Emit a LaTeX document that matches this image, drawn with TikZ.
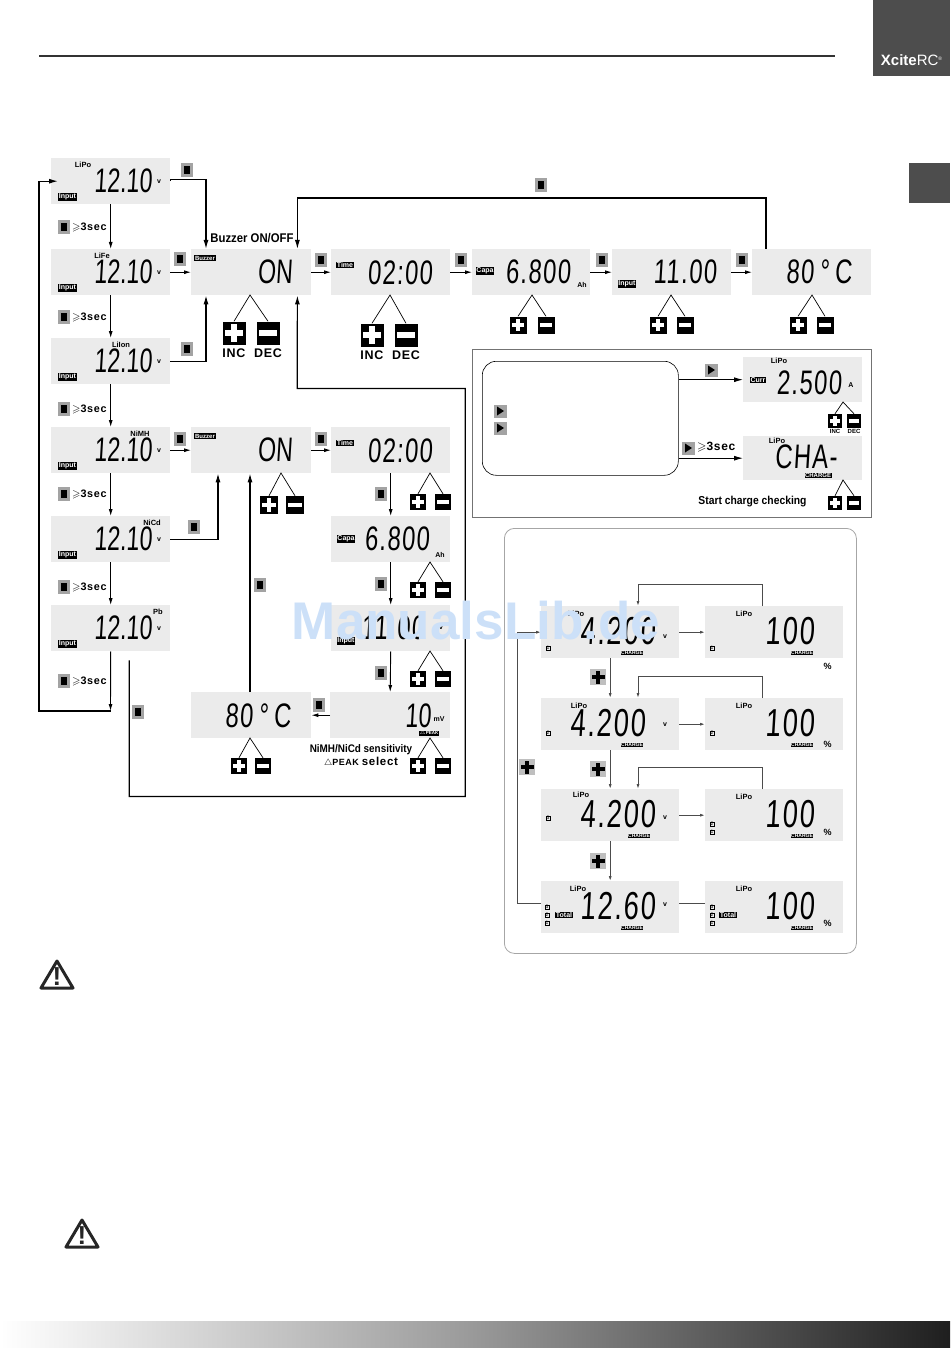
\documentclass[tikz,border=0pt]{standalone}
\usepackage{amssymb}
\usepackage{fontspec}
\setmainfont{Liberation Sans}
\newfontfamily\lcdface[FakeStretch=0.7,FakeSlant=0.06,LetterSpace=4]{Liberation Sans}
\newfontfamily\lcdtight[FakeStretch=0.68,FakeSlant=0.06]{Liberation Sans}
\newfontfamily\narrowface[FakeStretch=0.9]{Liberation Sans}
\newfontfamily\wideface[LetterSpace=6]{Liberation Sans}
\usetikzlibrary{arrows.meta,shapes.geometric}

\definecolor{lcdgray}{HTML}{EBEBEB}
\definecolor{keygray}{HTML}{A3A3A3}
\definecolor{tabgray}{HTML}{4D4D4D}
\definecolor{markblue}{HTML}{CCE0F8}

\tikzset{
    lcdbox/.style = {fill=lcdgray, inner sep=0, anchor=north west},
    readout/.style = {inner sep=0, font=\lcdface\fontsize{34}{34}\selectfont},
    tightout/.style = {inner sep=0, font=\lcdtight\fontsize{34}{34}\selectfont},
    bigreadout/.style = {inner sep=0, font=\lcdface\fontsize{39}{39}\selectfont},
    modetext/.style = {inner sep=0, font=\bfseries\fontsize{7.5}{8}\selectfont},
    unittext/.style = {inner sep=0, font=\bfseries\fontsize{7}{7}\selectfont},
    lcdtag/.style = {fill=black, text=white, inner sep=0.7, font=\bfseries\fontsize{7}{7}\selectfont},
    chargetag/.style = {fill=black, text=white, inner sep=0.5, font=\bfseries\fontsize{5}{5}\selectfont},
    cellmark/.style = {draw, line width=0.3, inner sep=0.5, font=\fontsize{5}{5}\selectfont},
    holdtext/.style = {inner sep=0, anchor=west, font=\wideface\bfseries\fontsize{10.8}{12}\selectfont},
    keycap/.style = {inner sep=0, font=\wideface\bfseries\fontsize{12.5}{13}\selectfont},
    notetext/.style = {inner sep=0, font=\narrowface\bfseries\fontsize{12.6}{13}\selectfont},
    conn/.style = {line width=0.9, -{Latex[length=7pt,width=4pt]}},
    mainconn/.style = {line width=1.2, -{Latex[length=9pt,width=5pt]}},
    thinconn/.style = {line width=0.9, draw=black!70, -{Latex[length=5pt,width=3pt]}},
    wedge/.style = {line width=0.7},
    stopkey/.style = {fill=keygray, inner sep=0, minimum width=12, minimum height=14,
        path picture={\fill[black] (path picture bounding box.center) ++(-3,-4) rectangle ++(6,8);}},
    arrowkey/.style = {fill=keygray, inner sep=0, minimum width=13, minimum height=13,
        path picture={\fill[black] (path picture bounding box.center) ++(-3,-4.5) -- ++(7,4.5) -- ++(-7,4.5) -- cycle;}},
    pluskey/.style = {fill=black, inner sep=0, minimum size=#1,
        path picture={\fill[white] (path picture bounding box.center) ++(-.38*#1,-.12*#1) rectangle ++(.76*#1,.24*#1);
            \fill[white] (path picture bounding box.center) ++(-.12*#1,-.38*#1) rectangle ++(.24*#1,.76*#1);}},
    minuskey/.style = {fill=black, inner sep=0, minimum size=#1,
        path picture={\fill[white] (path picture bounding box.center) ++(-.38*#1,-.12*#1) rectangle ++(.76*#1,.24*#1);}},
    grayplus/.style = {fill=keygray!70, inner sep=0, minimum size=16,
        path picture={\fill[black] (path picture bounding box.center) ++(-6.5,-1.7) rectangle ++(13,3.4);
            \fill[black] (path picture bounding box.center) ++(-1.7,-6.5) rectangle ++(3.4,13);}},
    warnmark/.style = {inner sep=0, font=\bfseries\fontsize{26}{26}\selectfont}
}

\begin{document}
\begin{tikzpicture}[x=1pt, y=-1pt]
    % Define macros
    \def\lcdBox#1#2#3#4#5{\node[lcdbox, minimum width=#4, minimum height=#5] (#1) at (#2,#3) {};}
    \def\keyPair#1#2#3#4#5#6#7{%
        \coordinate (#1Apex) at (#2,#3);
        \node[pluskey=#7] (#1Plus) at (#4,#6) {};
        \node[minuskey=#7] (#1Minus) at (#5,#6) {};
        \draw[wedge] (#1Plus.north) -- (#1Apex) -- (#1Minus.north);}

    \useasboundingbox (0,0) rectangle (950,1348);

    %Page furniture
    \draw[line width=1.4, black!80] (39,56) -- (835,56);
    \fill[tabgray] (873,0) rectangle (950,76);
    \fill[tabgray] (909,163) rectangle (950,203);
    \node[inner sep=0, text=white, font=\fontsize{15}{15}\selectfont] (brand) at (911.5,60) {\textbf{Xcite}RC\raisebox{5pt}{\fontsize{5}{5}\selectfont ®}};
    \shade[left color=white, right color=black!88, middle color=black!40] (0,1321) rectangle (950,1348);

    %Panels
    \node[draw=black!55, line width=0.9, inner sep=0, minimum width=399, minimum height=168, anchor=north west] (checkPanel) at (472,349) {};
    \node[draw, rounded corners=14, line width=0.6, inner sep=0, minimum width=196, minimum height=114, anchor=north west] (infoBox) at (482,361) {};
    \node[draw=black!35, rounded corners=10, line width=0.8, inner sep=0, minimum width=352, minimum height=425, anchor=north west] (chkPanel) at (504,528) {};

    %Left column of battery types
    \foreach \boxName/\ytop/\modeName/\modex in {liPo/158/LiPo/83, liFe/249/LiFe/102, liIon/338/LiIon/121, niMH/427/NiMH/140, niCd/516/NiCd/152, pbAcid/605/Pb/158} {
        \lcdBox{\boxName}{51}{\ytop}{119}{46}
        \node[tightout] (\boxName Value) at ([xshift=72]\boxName.west) {12.10};
        \node[lcdtag] (\boxName Tag) at ([shift={(16.5,-7.5)}]\boxName.south west) {Input};
        \node[unittext] (\boxName Unit) at ([xshift=108]\boxName.west) {v};
        \node[modetext] (\boxName Mode) at (\modex,\ytop+7) {\modeName};
    }
    \foreach \i/\y in {1/227, 2/317, 3/409, 4/494, 5/587, 6/681} {
        \node[stopkey] (holdKey\i) at (64,\y) {};
        \node[holdtext] (holdText\i) at (72,\y) {$\geqslant$3sec};
    }
    \coordinate (pbEnd) at (110.5,711);
    \foreach \a/\b in {liPo/liFe, liFe/liIon, liIon/niMH, niMH/niCd, niCd/pbAcid} {
        \draw[conn] (\a.south) -- (\b.north);
    }
    \draw[conn] (pbAcid.south) -- (pbEnd);
    \draw[mainconn] (pbEnd) -- ++(-71.5,0) |- ([xshift=7]liPo.west);

    %Top row
    \lcdBox{buzzA}{191}{249}{120}{46}
    \lcdBox{timeA}{331}{249}{119}{46}
    \lcdBox{capaA}{472}{249}{118}{46}
    \lcdBox{inputA}{612}{249}{119}{46}
    \lcdBox{heatA}{752}{249}{119}{46}
    \node[lcdtag, font=\bfseries\fontsize{6}{6}\selectfont] (buzzATag) at (205,258) {Buzzer};
    \node[tightout] (buzzAValue) at (275,272) {ON};
    \node[lcdtag] (timeATag) at (345,265) {Time};
    \node[readout] (timeAValue) at (400,273) {02:00};
    \node[lcdtag] (capaATag) at (485,271) {Capa};
    \node[readout] (capaAValue) at (538,272) {6.800};
    \node[unittext] (capaAUnit) at (582,285) {Ah};
    \node[lcdtag] (inputATag) at (627,284) {Input};
    \node[readout] (inputAValue) at (685,272) {11.00};
    \node[readout] (heatAValue) at (819,272) {80\,°\,C};
    \node[notetext] (buzzerNote) at (252,238) {Buzzer ON/OFF};

    \draw[mainconn] (liPo.east) -- ++(0,-1.5) -| ([xshift=15]buzzA.north west);
    \draw[conn] (liFe) -- (buzzA);
    \draw[mainconn] (liIon.east) -| ([xshift=15]buzzA.south west);
    \draw[conn] (buzzA) -- (timeA);
    \draw[conn] (timeA) -- (capaA);
    \draw[conn] (capaA) -- (inputA);
    \draw[conn] (inputA) -- (heatA);
    \draw[mainconn] ([xshift=14]heatA.north west) -- ++(0,-51) -| ([xshift=-14]buzzA.north east);
    \draw[mainconn] ([shift={(18.5,9)}]pbAcid.south) -- ++(0,136) -- ++(336,0) -- ++(0,-408) -- ++(-168,0) -- ([xshift=-14]buzzA.south east);

    \keyPair{buzzA}{250}{295}{234}{268}{333}{23}
    \keyPair{timeA}{390}{295}{372}{406}{335}{23}
    \keyPair{capaA}{532}{295}{518}{546}{325}{17}
    \keyPair{inputA}{671}{295}{658}{685}{325}{17}
    \keyPair{heatA}{812}{295}{798}{825}{325}{17}
    \node[keycap] (buzzAInc) at (234,353) {INC};
    \node[keycap] (buzzADec) at (268,353) {DEC};
    \node[keycap] (timeAInc) at (372,355) {INC};
    \node[keycap] (timeADec) at (406,355) {DEC};

    %Second branch
    \lcdBox{buzzB}{191}{427}{120}{46}
    \lcdBox{timeB}{331}{427}{119}{46}
    \lcdBox{capaB}{331}{516}{119}{46}
    \lcdBox{inputB}{331}{605}{119}{46}
    \lcdBox{peakB}{330}{692}{120}{46}
    \lcdBox{heatB}{191}{692}{120}{46}
    \node[lcdtag, font=\bfseries\fontsize{6}{6}\selectfont] (buzzBTag) at (205,436) {Buzzer};
    \node[tightout] (buzzBValue) at (275,450) {ON};
    \node[lcdtag] (timeBTag) at (345,443) {Time};
    \node[readout] (timeBValue) at (400,451) {02:00};
    \node[lcdtag] (capaBTag) at (346,539) {Capa};
    \node[readout] (capaBValue) at (397,539) {6.800};
    \node[unittext] (capaBUnit) at (440,555) {Ah};
    \node[lcdtag] (inputBTag) at (346,641) {Input};
    \node[readout] (inputBValue) at (393,628) {11.00};
    \node[unittext] (inputBUnit) at (441,628) {v};
    \node[tightout] (peakBValue) at (418,716) {10};
    \node[unittext] (peakBUnit) at (439,719) {mV};
    \node[lcdtag, font=\bfseries\fontsize{4.5}{5}\selectfont] (peakBTag) at (429,733.5) {$\triangle$PEAK};
    \node[readout] (heatBValue) at (258,716) {80\,°\,C};
    \node[inner sep=0, font=\narrowface\bfseries\fontsize{11}{11}\selectfont] (sensNote) at (361,750) {NiMH/NiCd sensitivity};
    \node[inner sep=0, font=\wideface\bfseries\fontsize{9}{10}\selectfont] (peakNote) at (361,762) {$\triangle$PEAK \fontsize{11.5}{11}\selectfont select};

    \draw[conn] (niMH) -- (buzzB);
    \draw[mainconn] (niCd.east) -| ([xshift=27]buzzB.south west);
    \draw[conn] (buzzB) -- (timeB);
    \draw[conn] (timeB.south) -- (capaB.north);
    \draw[conn] (capaB.south) -- (inputB.north);
    \draw[conn] (inputB.south) -- (peakB.north);
    \draw[conn] (peakB) -- (heatB);
    \draw[mainconn] ([xshift=59]heatB.north west) -- ([xshift=59]buzzB.south west);

    \keyPair{buzzB}{281}{473}{269}{295}{505}{18}
    \keyPair{timeB}{430}{473}{418}{443}{502}{16}
    \keyPair{capaB}{430}{562}{418}{443}{590}{16}
    \keyPair{inputB}{430}{651}{418}{443}{679}{16}
    \keyPair{peakB}{430}{738}{418}{443}{766}{16}
    \keyPair{heatB}{250}{738}{239}{263}{766}{16}

    %Connector keys
    \foreach \i/\x/\y in {1/187/170, 2/180/259, 3/187/349, 4/180/439, 5/194/527, 6/321/260, 7/321/439, 8/461/260, 9/602/260, 10/742/260, 11/541/185, 12/381/494, 13/381/584, 14/381/673, 15/260/585, 16/319/705, 17/138/712} {
        \node[stopkey] (stopKey\i) at (\x,\y) {};
    }

    %Check panel
    \lcdBox{currBox}{743}{357}{119}{45}
    \lcdBox{chaBox}{743}{436}{119}{44}
    \node[modetext] (currMode) at (779,361) {LiPo};
    \node[lcdtag] (currTag) at (758,380) {Curr};
    \node[readout] (currValue) at (809,383) {2.500};
    \node[unittext] (currUnit) at (851,385) {A};
    \node[modetext] (chaMode) at (777,441) {LiPo};
    \node[readout] (chaValue) at (806,457) {CHA-};
    \node[chargetag, font=\bfseries\fontsize{6}{6}\selectfont] (chaTag) at (818,475.5) {CHARGE};
    \node[arrowkey] (infoKeyA) at (500,411) {};
    \node[arrowkey] (infoKeyB) at (500,428) {};
    \node[arrowkey] (currKey) at (711,370) {};
    \node[arrowkey] (chaKey) at (688,448) {};
    \node[holdtext, font=\wideface\bfseries\fontsize{12}{12}\selectfont] (chaHold) at (697,447) {$\geqslant$3sec};
    \node[inner sep=0, font=\narrowface\bfseries\fontsize{11.5}{12}\selectfont] (startNote) at (752.5,502) {Start charge checking};
    \draw[mainconn, line width=0.9] (infoBox.east |- currBox) -- (currBox);
    \draw[mainconn, line width=0.9] (infoBox.east |- chaBox) -- (chaBox);
    \keyPair{currBox}{843}{402}{835}{854}{421}{14}
    \keyPair{chaBox}{843}{480}{835}{854}{503}{14}
    \node[inner sep=0, font=\bfseries\fontsize{6}{6}\selectfont] (currInc) at (835,431.5) {INC};
    \node[inner sep=0, font=\bfseries\fontsize{6}{6}\selectfont] (currDec) at (854,431.5) {DEC};

    %Cell voltage panel
    \foreach \row/\ytop/\readVal/\valx/\lix/\liy/\tagx/\pcty/\vy in {1/606/4.200/618/576/614/632/666/637, 2/698/4.200/608/579/706/632/744/725, 3/789/4.200/618/581/795/639/832/818, 4/881/12.60/618/578/889/632/923/905} {
        \lcdBox{chkLeft\row}{541}{\ytop}{138}{52}
        \lcdBox{chkRight\row}{705}{\ytop}{138}{52}
        \node[bigreadout] (chkLeftValue\row) at (\valx,\ytop+25) {\readVal};
        \node[modetext] (chkLeftMode\row) at (\lix,\liy) {LiPo};
        \node[unittext] (chkLeftUnit\row) at (665,\vy) {v};
        \node[chargetag] (chkLeftTag\row) at (\tagx,\ytop+47) {CHARGE};
        \node[bigreadout] (chkRightValue\row) at (790,\ytop+25) {100};
        \node[modetext] (chkRightMode\row) at (744,\ytop+8) {LiPo};
        \node[chargetag] (chkRightTag\row) at (802,\ytop+47) {CHARGE};
        \node[inner sep=0, font=\bfseries\fontsize{9}{9}\selectfont] (chkPct\row) at (827.5,\pcty) {\%};
    }
    \node[cellmark] (markLeftA) at (548,648) {1};
    \node[cellmark] (markRightA) at (712,648) {1};
    \node[cellmark] (markLeftB) at (548,733) {2};
    \node[cellmark] (markRightB) at (712,733) {2};
    \node[cellmark] (markLeftC) at (548,818) {3};
    \node[cellmark] (markRightCa) at (712,824) {2};
    \node[cellmark] (markRightCb) at (712,832) {1};
    \foreach \n/\y in {3/907, 2/915, 1/923} {
        \node[cellmark] (markLeftD\n) at (547,\y) {\n};
        \node[cellmark] (markRightD\n) at (712,\y) {\n};
    }
    \node[lcdtag] (totalLeft) at (564,915) {Total};
    \node[lcdtag] (totalRight) at (728,915) {Total};

    \foreach \row in {1,2,3} {
        \draw[thinconn] (chkLeft\row) -- (chkRight\row);
        \draw[thinconn] ([xshift=57]chkRight\row.north west) -- ++(0,-22) -| ([xshift=97]chkLeft\row.north west);
    }
    \draw[line width=0.9, draw=black!70] ([yshift=4]chkLeft4.east) -- ([yshift=4]chkRight4.west);
    \draw[thinconn] (chkLeft1.south) -- (chkLeft2.north);
    \draw[thinconn] (chkLeft2.south) -- (chkLeft3.north);
    \draw[thinconn] (chkLeft3.south) -- (chkLeft4.north);
    \draw[thinconn] ([yshift=4]chkLeft4.west) -- ++(-24,0) |- (chkLeft1.west);
    \node[grayplus] (cellPlusA) at (598,677) {};
    \node[grayplus] (cellPlusB) at (598,769) {};
    \node[grayplus] (cellPlusC) at (598,861) {};
    \node[grayplus] (cellPlusD) at (527,767) {};

    %Warning signs
    \foreach \i/\x/\y in {A/57/975, B/82/1234} {
        \draw[line width=3, line join=round, black!85] (\x-16,\y+13) -- (\x,\y-14) -- (\x+16,\y+13) -- cycle;
        \node[warnmark, black!85] (warn\i) at (\x,\y+2) {!};
    }

    %Watermark on top
    \node[inner sep=0, text=markblue, font=\bfseries\fontsize{53}{53}\selectfont] (wmark) at (476,621) {ManualsLib.de};
\end{tikzpicture}
\end{document}
